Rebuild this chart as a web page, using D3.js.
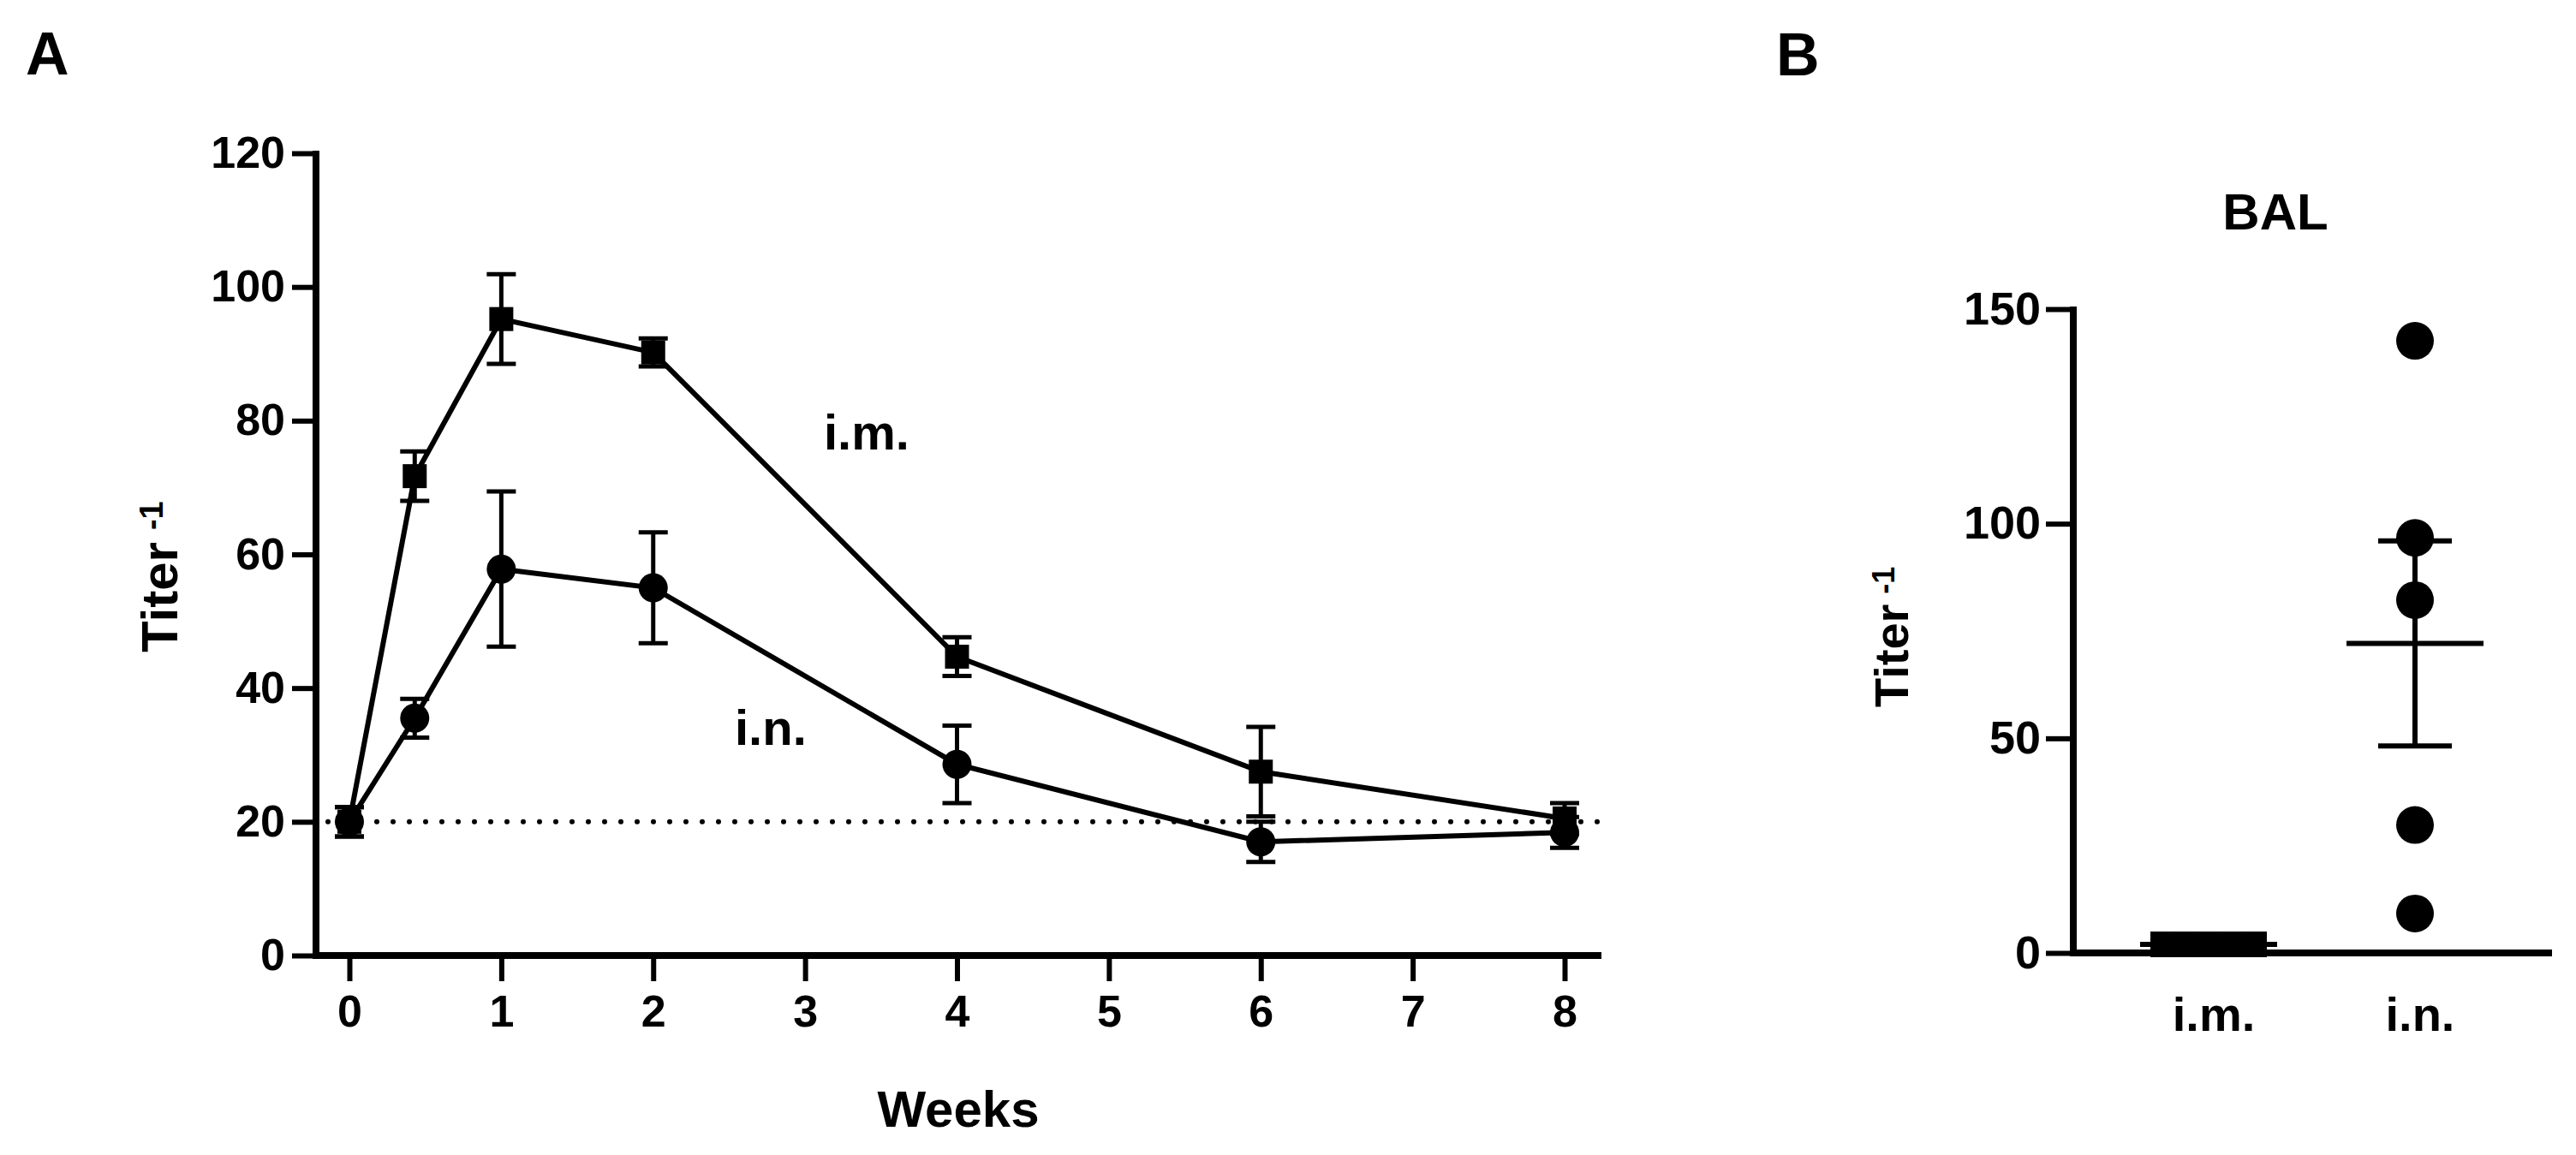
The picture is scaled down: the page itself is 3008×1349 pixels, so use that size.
<!DOCTYPE html>
<html>
<head>
<meta charset="utf-8">
<script src="https://cdn.jsdelivr.net/npm/d3@7"></script>
<style>
  html, body { margin: 0; padding: 0; background: #fff; }
  text { font-family: "Liberation Sans", Arial, sans-serif; font-weight: bold; fill: #000; }
</style>
</head>
<body>
<script>
// panel A: titer over weeks
const weeks = [0, 0.43, 1, 2, 4, 6, 8];
const imMean = [20, 71.7, 95.2, 90.2, 44.7, 27.5, 20.5];
const imErr = [2.2, 3.7, 6.7, 2.1, 2.9, 6.7, 2.3];
const inMean = [20, 35.5, 57.8, 55.0, 28.6, 17.0, 18.4];
const inErr = [2.2, 2.9, 11.6, 8.3, 5.8, 3.0, 2.3];
const weekTicks = [0, 1, 2, 3, 4, 5, 6, 7, 8];
const titerTicksA = [0, 20, 40, 60, 80, 100, 120];
const detectionLimit = 20;

// panel B: BAL
const groups = ['i.m.', 'i.n.'];
const balIm = [2, 2, 2, 2, 2];
const balIn = [142.6, 96.7, 82.2, 29.8, 9.2];
const titerTicksB = [0, 50, 100, 150];

const W = 3008, H = 1349;
const svg = d3.select('body').append('svg')
  .attr('width', W).attr('height', H);

// ---------- Panel A ----------
const xA = d3.scaleLinear().domain([0, 8]).range([408, 1827]);
const yA = d3.scaleLinear().domain([0, 120]).range([1116, 179]);
const axisXA = 369;

svg.append('text').attr('x', 30).attr('y', 87).style('font-size', '70px').text('A');

// dotted detection line
svg.append('line')
  .attr('x1', 383).attr('x2', 1867)
  .attr('y1', yA(detectionLimit)).attr('y2', yA(detectionLimit))
  .attr('stroke', '#000').attr('stroke-width', 6)
  .attr('stroke-linecap', 'round').attr('stroke-dasharray', '0,19');

const gA = svg.append('g');

function drawSeries(means, errs, shape) {
  const pts = weeks.map((w, i) => ({ w: w, m: means[i], e: errs[i] }));
  // error bars
  const eb = gA.append('g').selectAll('g').data(pts).enter().append('g');
  eb.append('line')
    .attr('x1', d => xA(d.w)).attr('x2', d => xA(d.w))
    .attr('y1', d => yA(d.m + d.e)).attr('y2', d => yA(d.m - d.e))
    .attr('stroke', '#000').attr('stroke-width', 5);
  [1, -1].forEach(s => {
    eb.append('line')
      .attr('x1', d => xA(d.w) - 17).attr('x2', d => xA(d.w) + 17)
      .attr('y1', d => yA(d.m + s * d.e)).attr('y2', d => yA(d.m + s * d.e))
      .attr('stroke', '#000').attr('stroke-width', 5);
  });
  // connecting line
  gA.append('path')
    .datum(pts)
    .attr('fill', 'none').attr('stroke', '#000').attr('stroke-width', 6)
    .attr('d', d3.line().x(d => xA(d.w)).y(d => yA(d.m)));
  // markers
  if (shape === 'square') {
    gA.append('g').selectAll('rect').data(pts).enter().append('rect')
      .attr('x', d => xA(d.w) - 14).attr('y', d => yA(d.m) - 14)
      .attr('width', 28).attr('height', 28).attr('fill', '#000');
  } else {
    gA.append('g').selectAll('circle').data(pts).enter().append('circle')
      .attr('cx', d => xA(d.w)).attr('cy', d => yA(d.m))
      .attr('r', 17).attr('fill', '#000');
  }
}
drawSeries(imMean, imErr, 'square');
drawSeries(inMean, inErr, 'circle');

// axes A
const yAxisA = svg.append('g').attr('transform', `translate(${axisXA},0)`)
  .call(d3.axisLeft(yA).tickValues(titerTicksA).tickSize(28).tickSizeOuter(0).tickPadding(8));
const xAxisA = svg.append('g').attr('transform', `translate(0,${yA(0)})`)
  .call(d3.axisBottom(xA).tickValues(weekTicks).tickSize(30).tickSizeOuter(0).tickPadding(16));
[yAxisA, xAxisA].forEach(g => {
  g.select('.domain').remove();
  g.selectAll('.tick line').attr('stroke', '#000').attr('stroke-width', 6);
  g.selectAll('.tick text').style('font-size', '52px')
    .style('font-family', '"Liberation Sans", Arial, sans-serif').style('font-weight', 'bold');
});
xAxisA.selectAll('.tick text').attr('dy', '0.71em');
svg.append('line').attr('x1', axisXA).attr('x2', axisXA)
  .attr('y1', yA(120) - 3).attr('y2', yA(0) + 4)
  .attr('stroke', '#000').attr('stroke-width', 8);
svg.append('line').attr('x1', axisXA - 4).attr('x2', 1870)
  .attr('y1', yA(0)).attr('y2', yA(0))
  .attr('stroke', '#000').attr('stroke-width', 8);

svg.append('text').attr('x', 1119).attr('y', 1316).attr('text-anchor', 'middle')
  .style('font-size', '60px').text('Weeks');

const tA = svg.append('text').attr('transform', 'translate(207,762) rotate(-90)')
  .style('font-size', '60px');
tA.append('tspan').text('Titer');
tA.append('tspan').attr('dx', 14).attr('dy', -17).style('font-size', '38px').text('-1');

svg.append('text').attr('x', 962).attr('y', 525).style('font-size', '58px').text('i.m.');
svg.append('text').attr('x', 858).attr('y', 870).style('font-size', '58px').text('i.n.');

// ---------- Panel B ----------
const xB = d3.scalePoint().domain(groups).range([2579, 2820]);
const yB = d3.scaleLinear().domain([0, 150]).range([1113, 361]);
const axisXB = 2421;

svg.append('text').attr('x', 2074).attr('y', 88).style('font-size', '70px').text('B');
svg.append('text').attr('x', 2657).attr('y', 268).attr('text-anchor', 'middle')
  .style('font-size', '60px').text('BAL');

const gB = svg.append('g');
const spread = d3.scaleLinear().domain([0, balIm.length - 1]).range([-53, 53]);

function meanSem(vals) {
  const m = d3.mean(vals);
  const sem = vals.length > 1 ? d3.deviation(vals) / Math.sqrt(vals.length) : 0;
  return { m: m, sem: sem || 0 };
}

// i.m. squares (spread horizontally)
gB.selectAll('rect.im').data(balIm).enter().append('rect')
  .attr('x', (d, i) => xB('i.m.') + spread(i) - 15).attr('y', d => yB(d) - 15)
  .attr('width', 30).attr('height', 30).attr('fill', '#000');
// i.n. circles
gB.selectAll('circle').data(balIn).enter().append('circle')
  .attr('cx', xB('i.n.')).attr('cy', d => yB(d)).attr('r', 22).attr('fill', '#000');

[['i.m.', balIm], ['i.n.', balIn]].forEach(([g, vals]) => {
  const s = meanSem(vals);
  const cx = xB(g);
  gB.append('line').attr('x1', cx - 80).attr('x2', cx + 80)
    .attr('y1', yB(s.m)).attr('y2', yB(s.m)).attr('stroke', '#000').attr('stroke-width', 6);
  gB.append('line').attr('x1', cx).attr('x2', cx)
    .attr('y1', yB(s.m + s.sem)).attr('y2', yB(s.m - s.sem)).attr('stroke', '#000').attr('stroke-width', 6);
  [1, -1].forEach(k => {
    gB.append('line').attr('x1', cx - 43).attr('x2', cx + 43)
      .attr('y1', yB(s.m + k * s.sem)).attr('y2', yB(s.m + k * s.sem))
      .attr('stroke', '#000').attr('stroke-width', 6);
  });
});

const yAxisB = svg.append('g').attr('transform', `translate(${axisXB},0)`)
  .call(d3.axisLeft(yB).tickValues(titerTicksB).tickSize(32).tickSizeOuter(0).tickPadding(6));
yAxisB.select('.domain').remove();
yAxisB.selectAll('.tick line').attr('stroke', '#000').attr('stroke-width', 6);
yAxisB.selectAll('.tick text').style('font-size', '54px')
  .style('font-family', '"Liberation Sans", Arial, sans-serif').style('font-weight', 'bold');
svg.append('line').attr('x1', axisXB).attr('x2', axisXB)
  .attr('y1', yB(150) - 3).attr('y2', yB(0) + 4)
  .attr('stroke', '#000').attr('stroke-width', 8);
svg.append('line').attr('x1', axisXB - 4).attr('x2', 2980)
  .attr('y1', yB(0)).attr('y2', yB(0))
  .attr('stroke', '#000').attr('stroke-width', 8);

svg.append('g').selectAll('text').data(groups).enter().append('text')
  .attr('x', d => xB(d) + 6).attr('y', 1204).attr('text-anchor', 'middle')
  .style('font-size', '56px').text(d => d);

const tB = svg.append('text').attr('transform', 'translate(2228,826) rotate(-90)')
  .style('font-size', '56px');
tB.append('tspan').text('Titer');
tB.append('tspan').attr('dx', 12).attr('dy', -16).style('font-size', '36px').text('-1');
</script>
</body>
</html>
